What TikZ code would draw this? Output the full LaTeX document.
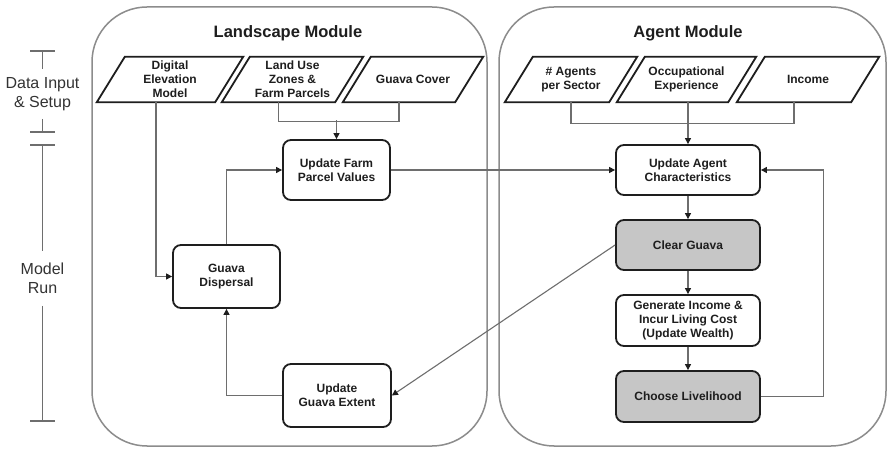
\documentclass[tikz,border=0pt]{standalone}
\usepackage{fontspec}
\setmainfont{Liberation Sans}
\usetikzlibrary{arrows.meta,calc}
\definecolor{boxline}{HTML}{1E1E1E}
\definecolor{conn}{HTML}{6E6E6E}
\definecolor{modline}{HTML}{8C8C8C}
\definecolor{shade}{HTML}{C6C6C6}
\definecolor{tltext}{HTML}{333333}
\begin{document}
\begin{tikzpicture}[x=1pt,y=-1pt,
  box/.style={draw=boxline, line width=1.8, rounded corners=8, fill=white, font=\fontsize{12}{14}\selectfont\bfseries, align=center, text=boxline, inner sep=0},
  para/.style={rectangle, minimum height=45, font=\fontsize{12}{14}\selectfont\bfseries, align=center, text=boxline, inner sep=0},
  paraline/.style={draw=boxline, line width=1.8, line join=miter},
  link/.style={draw=conn, line width=1.1},
  arr/.style={link, -{Triangle[length=6,width=6,color=boxline]}},
  module/.style={draw=modline, line width=1.5, rounded corners=55},
  tl/.style={draw=conn, line width=1.1},
  tltxt/.style={font=\fontsize{16}{19}\selectfont, align=center, text=tltext},
  title/.style={font=\fontsize{16.5}{20}\selectfont\bfseries, text=boxline}
]
\useasboundingbox (0,0) rectangle (887,449);
\fill[white] (0,0) rectangle (887,449);

% modules
\draw[module] (92,7) rectangle (487,446);
\draw[module] (499,7) rectangle (886,446);
\node[title] (lmt) at (288,33) {Landscape Module};
\node[title] (amt) at (688,33) {Agent Module};

% timeline
\node[tltxt] (dis) at (42.5,94) {Data Input\\\& Setup};
\node[tltxt] (mr) at (42.5,278) {Model\\Run};
\draw[tl] (30,51) -- (55,51);
\draw[tl] (42.5,51) -- (42.5,69);
\draw[tl] (42.5,119) -- (42.5,132);
\draw[tl] (30,132) -- (55,132);
\draw[tl] (30,145) -- (55,145);
\draw[tl] (42.5,145) -- (42.5,251);
\draw[tl] (42.5,306) -- (42.5,421);
\draw[tl] (30,421) -- (55,421);

% inputs (parallelograms, slant 28)
\node[para, minimum width=146] (dem) at (170,79.5) {Digital\\Elevation\\Model};
\node[para, minimum width=141] (lu) at (292.5,79.5) {Land Use\\Zones \&\\Farm Parcels};
\node[para, minimum width=140] (gc) at (413,79.5) {Guava Cover};
\node[para, minimum width=132] (ag) at (571,79.5) {\# Agents\\per Sector};
\node[para, minimum width=139] (occ) at (686.5,79.5) {Occupational\\Experience};
\node[para, minimum width=142] (inc) at (808,79.5) {Income};
\foreach \n in {dem,lu,gc,ag,occ,inc}
  \draw[paraline] ([xshift=28]\n.north west) -- (\n.north east) -- ([xshift=-28]\n.south east) -- (\n.south west) -- cycle;

% process boxes
\node[box, minimum width=107, minimum height=60] (ufp) at (336.5,170) {Update Farm\\Parcel Values};
\node[box, minimum width=144, minimum height=50] (uac) at (688,170) {Update Agent\\Characteristics};
\node[box, fill=shade, minimum width=144, minimum height=50] (cg) at (688,245) {Clear Guava};
\node[box, minimum width=144, minimum height=51] (gi) at (688,320.5) {Generate Income \&\\Incur Living Cost\\(Update Wealth)};
\node[box, fill=shade, minimum width=144, minimum height=51] (cl) at (688,396.5) {Choose Livelihood};
\node[box, minimum width=107, minimum height=63] (gd) at (226.5,276.5) {Guava\\Dispersal};
\node[box, minimum width=108, minimum height=63] (uge) at (337,395.5) {Update\\Guava Extent};

% connectors
\draw[link] ([xshift=-14]lu.south) -- ++(0,19) -| ([xshift=-14]gc.south);
\draw[arr] (ufp.north) ++(0,-19) -- (ufp.north);
\draw[link] (ag.south) -- ++(0,21) -| ([xshift=-14]inc.south);
\draw[arr] (occ.south -| uac.north) -- (uac.north);
\draw[arr] ([xshift=-14]dem.south) |- (gd.west);
\draw[arr] (gd.north) |- (ufp.west);
\draw[arr] (ufp.east) -- (uac.west);
\draw[arr] (uac.south) -- (cg.north);
\draw[arr] (cg.west) -- (uge.east);
\draw[arr] (cg.south) -- (gi.north);
\draw[arr] (gi.south) -- (cl.north);
\draw[arr] (cl.east) -- ++(63,0) |- (uac.east);
\draw[arr] (uge.west) -| (gd.south);
\end{tikzpicture}
\end{document}
